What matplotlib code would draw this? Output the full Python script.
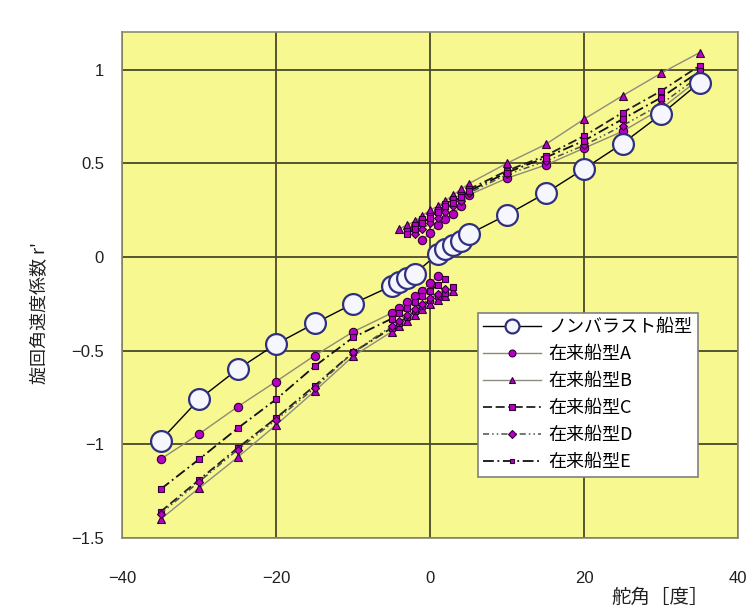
import numpy as np
import matplotlib
matplotlib.use("Agg")
import matplotlib.pyplot as plt

plt.rcParams['font.family'] = ['Noto Sans CJK JP', 'DejaVu Sans']

# non-ballast ship
nb_x = [-35, -30, -25, -20, -15, -10, -5, -4, -3, -2, 1, 2, 3, 4, 5, 10, 15, 20, 25, 30, 35]
nb_y = [-0.98, -0.76, -0.60, -0.465, -0.355, -0.25, -0.155, -0.135, -0.11, -0.09,
        0.016, 0.043, 0.064, 0.087, 0.12, 0.225, 0.34, 0.47, 0.605, 0.76, 0.93]

# conventional ships: lower branch (from -35 upward) and upper branch (up to +35)
a_lo_x = [-35, -30, -25, -20, -15, -10, -5, -4, -3, -2, -1, 0, 1]
a_lo_y = [-1.08, -0.945, -0.80, -0.665, -0.527, -0.40, -0.30, -0.27, -0.24, -0.21, -0.18, -0.14, -0.10]
a_up_x = [-1, 0, 1, 2, 3, 4, 5, 10, 15, 20, 25, 30, 35]
a_up_y = [0.09, 0.13, 0.17, 0.20, 0.23, 0.27, 0.33, 0.42, 0.49, 0.58, 0.67, 0.79, 0.95]

b_lo_x = [-35, -30, -25, -20, -15, -10, -5, -4, -3, -2, -1, 0, 1, 2, 3]
b_lo_y = [-1.40, -1.234, -1.07, -0.897, -0.717, -0.53, -0.40, -0.37, -0.34, -0.31, -0.28, -0.25, -0.23, -0.21, -0.18]
b_up_x = [-4, -3, -2, -1, 0, 1, 2, 3, 4, 5, 10, 15, 20, 25, 30, 35]
b_up_y = [0.15, 0.17, 0.19, 0.22, 0.25, 0.27, 0.30, 0.33, 0.36, 0.39, 0.50, 0.60, 0.735, 0.86, 0.98, 1.09]

c_lo_x = [-35, -30, -25, -20, -15, -10, -5, -4, -3, -2, -1, 0, 1, 2, 3]
c_lo_y = [-1.36, -1.19, -1.02, -0.86, -0.688, -0.51, -0.38, -0.35, -0.32, -0.29, -0.26, -0.23, -0.21, -0.19, -0.16]
c_up_x = [-3, -2, -1, 0, 1, 2, 3, 4, 5, 10, 15, 20, 25, 30, 35]
c_up_y = [0.14, 0.17, 0.20, 0.22, 0.25, 0.28, 0.31, 0.33, 0.36, 0.46, 0.54, 0.645, 0.77, 0.885, 1.02]

d_lo_x = [-35, -30, -25, -20, -15, -10, -5, -4, -3, -2, -1, 0, 1, 2]
d_lo_y = [-1.37, -1.20, -1.03, -0.87, -0.70, -0.51, -0.37, -0.34, -0.31, -0.28, -0.25, -0.22, -0.20, -0.17]
d_up_x = [-2, -1, 0, 1, 2, 3, 4, 5, 10, 15, 20, 25, 30, 35]
d_up_y = [0.12, 0.15, 0.18, 0.21, 0.24, 0.27, 0.30, 0.34, 0.44, 0.51, 0.595, 0.70, 0.815, 0.965]

e_lo_x = [-35, -30, -25, -20, -15, -10, -5, -4, -3, -2, -1, 0, 1, 2]
e_lo_y = [-1.24, -1.08, -0.915, -0.76, -0.584, -0.43, -0.33, -0.30, -0.27, -0.24, -0.21, -0.18, -0.15, -0.12]
e_up_x = [-3, -2, -1, 0, 1, 2, 3, 4, 5, 10, 15, 20, 25, 30, 35]
e_up_y = [0.12, 0.15, 0.18, 0.21, 0.24, 0.27, 0.29, 0.32, 0.35, 0.45, 0.53, 0.62, 0.735, 0.85, 0.99]

labels = ['ノンバラスト船型', '在来船型A', '在来船型B', '在来船型C', '在来船型D', '在来船型E']

fig = plt.figure(figsize=(7.5, 6.1), dpi=100)
ax = fig.add_axes([0.1627, 0.118, 0.8213, 0.8295])
ax.set_facecolor('#F8F890')

purple = '#B800C4'
edge = '#2A0030'

series = [
    (a_lo_x, a_lo_y, a_up_x, a_up_y, dict(color='#8C8C70', ls='-', lw=1.0, marker='o', ms=6)),
    (b_lo_x, b_lo_y, b_up_x, b_up_y, dict(color='#8C8C80', ls='-', lw=1.0, marker='^', ms=6)),
    (c_lo_x, c_lo_y, c_up_x, c_up_y, dict(color='#202020', ls=(0, (5, 2, 5, 2, 1, 2)), lw=1.3, marker='s', ms=5)),
    (d_lo_x, d_lo_y, d_up_x, d_up_y, dict(color='#505050', ls=(0, (4, 2, 1, 2, 1, 2)), lw=1.1, marker='D', ms=4.5)),
    (e_lo_x, e_lo_y, e_up_x, e_up_y, dict(color='#101010', ls=(0, (6, 2, 1, 2)), lw=1.3, marker='s', ms=4)),
]

handles = []
h, = ax.plot(nb_x, nb_y, color='black', lw=1.0, marker='o', ms=15,
             mfc='#F6F6FF', mec='#303080', mew=1.6, zorder=4)
handles.append(h)
for lx, ly, ux, uy, st in series:
    h, = ax.plot(lx, ly, mfc=purple, mec=edge, mew=0.8, zorder=3, **st)
    ax.plot(ux, uy, mfc=purple, mec=edge, mew=0.8, zorder=3, **st)
    handles.append(h)

ax.set_xlim(-40, 40)
ax.set_ylim(-1.5, 1.2)
ax.set_xticks([-40, -20, 0, 20, 40])
ax.set_xticklabels(['−40', '−20', '0', '20', '40'])
ax.set_yticks([-1.5, -1, -0.5, 0, 0.5, 1])
ax.set_yticklabels(['−1.5', '−1', '−0.5', '0', '0.5', '1'])
ax.grid(True, color='#4A4A28', lw=1.3)
ax.set_axisbelow(True)
ax.tick_params(length=0, labelsize=12, colors='#202020')
ax.tick_params(axis='x', pad=24)
ax.tick_params(axis='y', pad=13)
for lab in ax.get_xticklabels() + ax.get_yticklabels():
    lab.set_family(['Liberation Sans', 'DejaVu Sans'])
for s in ax.spines.values():
    s.set_color('#8A8A70')
    s.set_linewidth(1.2)

ax.set_ylabel("旋回角速度係数 r'", fontsize=13, color='#202020')
ax.yaxis.set_label_coords(-0.118, 0.445)
fig.text(0.88, 0.021, '舵角［度］', fontsize=14, color='#202020', ha='center', va='center')

leg = ax.legend(handles, labels, loc='upper left', bbox_to_anchor=(0.578, 0.445),
                fontsize=13, frameon=True, fancybox=False, edgecolor='#808080',
                framealpha=1.0, borderpad=0.3, labelspacing=0.5, handlelength=3.2,
                handletextpad=0.4, borderaxespad=0)
leg.get_frame().set_linewidth(1.2)
for lh, ms in zip(leg.legend_handles, [10, 5, 5, 4.5, 4, 3.5]):
    lh.set_markersize(ms)

fig.savefig('out.png', dpi=100, facecolor='white')
